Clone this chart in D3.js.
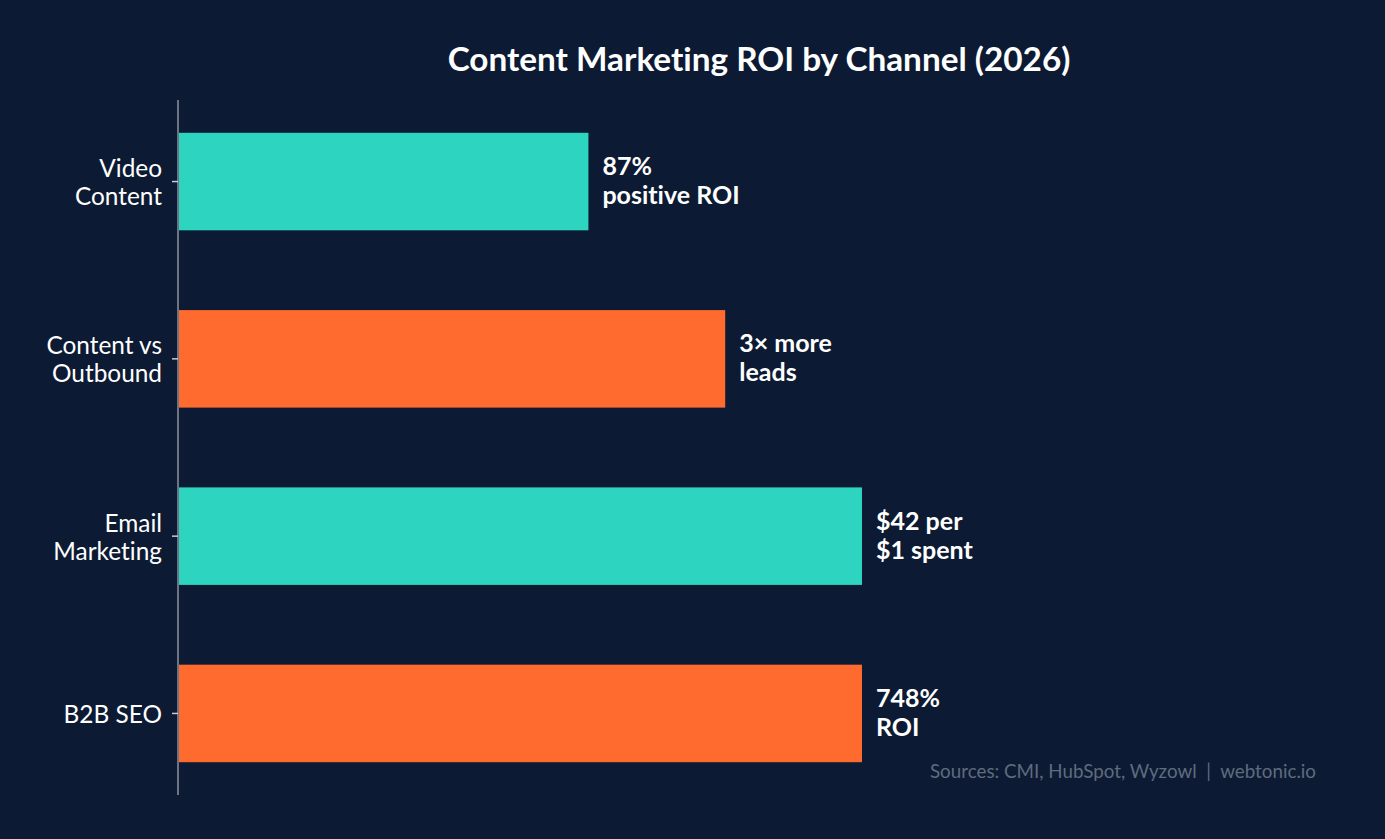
<!DOCTYPE html>
<html><head><meta charset="utf-8">
<script src="https://cdn.jsdelivr.net/npm/d3@7"></script>
<style>
html,body{margin:0;padding:0;background:#0c1b33;}
svg{display:block;font-family:Lato,"Noto Sans",sans-serif;font-variant-ligatures:none;}
</style></head>
<body>
<script>
const categories = [["Video","Content"],["Content vs","Outbound"],["Email","Marketing"],["B2B SEO"]];
const categoryKeys = ["Video Content","Content vs Outbound","Email Marketing","B2B SEO"];
const values = [60, 80, 100, 100];
const valueLabels = [["87%","positive ROI"],["3× more","leads"],["$42 per","$1 spent"],["748%","ROI"]];
const barColors = ["#2dd4bf","#ff6b2f","#2dd4bf","#ff6b2f"];

const W = 1385, H = 839;
const svg = d3.select("body").append("svg").attr("width", W).attr("height", H);
svg.append("rect").attr("width", W).attr("height", H).attr("fill", "#0c1b33");

const x = d3.scaleLinear().domain([0, 100]).range([178, 862]);
const y = d3.scaleBand().domain(categoryKeys).range([100, 795]).paddingInner(0.45).paddingOuter(0.185);

svg.append("text").attr("x", 759).attr("y", 71).attr("text-anchor", "middle")
  .attr("fill", "#ffffff").attr("font-size", 33.3).attr("font-weight", 700)
  .text("Content Marketing ROI by Channel (2026)");

svg.selectAll("rect.bar").data(values).enter().append("rect").attr("class","bar")
  .attr("x", x(0)).attr("y", (d,i)=>y(categoryKeys[i]))
  .attr("width", d=>x(d)-x(0)).attr("height", y.bandwidth())
  .attr("fill", (d,i)=>barColors[i]);

// axis
const ax = svg.append("g").attr("transform", "translate(178,0)")
  .call(d3.axisLeft(y).tickSize(6).tickFormat(""));
ax.select(".domain").attr("stroke", "#6b7384").attr("stroke-width", 2).attr("d", "M0,100V795");
ax.selectAll(".tick line").attr("stroke", "#c8ccd4").attr("stroke-width", 1.5);

// category labels
categoryKeys.forEach((k,i)=>{
  const lines = categories[i];
  const cy = y(k) + y.bandwidth()/2;
  const lh = 28;
  const t = svg.append("text").attr("x", 162).attr("text-anchor","end")
    .attr("fill","#ffffff").attr("font-size", 24.4);
  lines.forEach((l,j)=>{
    t.append("tspan").attr("x",162)
      .attr("y", cy + (j - (lines.length-1)/2)*lh + 9.5).text(l);
  });
});

// value labels
values.forEach((v,i)=>{
  const lines = valueLabels[i];
  const cy = y(categoryKeys[i]) + y.bandwidth()/2;
  const t = svg.append("text").attr("fill","#ffffff").attr("font-size",25).attr("font-weight",700);
  lines.forEach((l,j)=>{
    t.append("tspan").attr("x", x(v)+14)
      .attr("y", cy + (j-0.5)*29 + 8).text(l);
  });
});

svg.append("text").attr("x", 1316).attr("y", 778).attr("text-anchor","end")
  .attr("fill","#5f6b7e").attr("font-size",18.8)
  .text("Sources: CMI, HubSpot, Wyzowl  |  webtonic.io").attr("xml:space","preserve").style("white-space","pre");
</script>
</body></html>
